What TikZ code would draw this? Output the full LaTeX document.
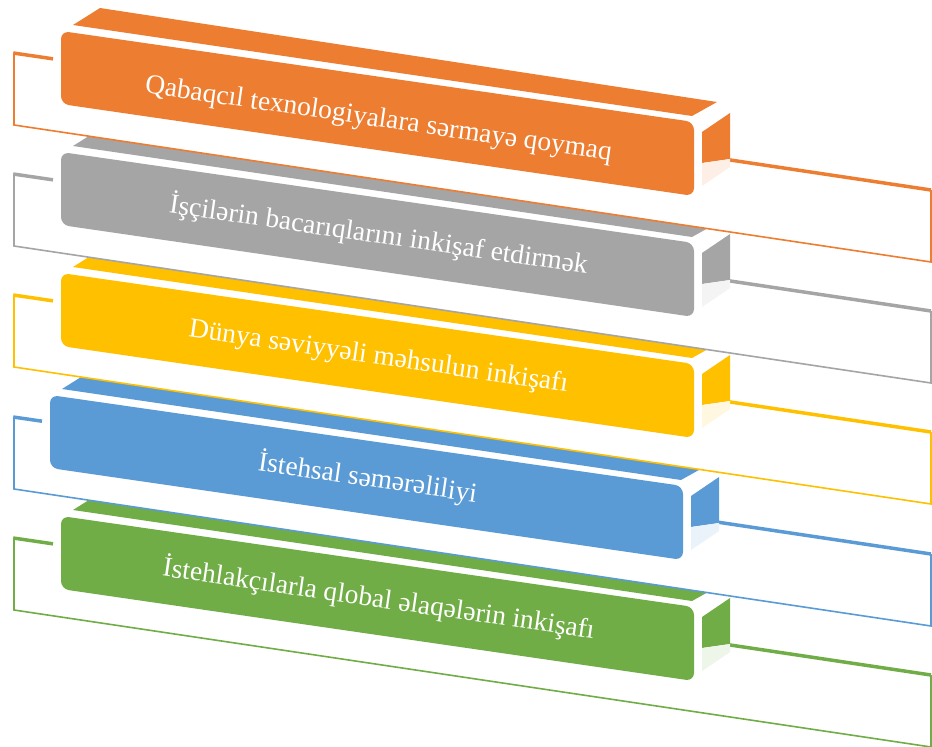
\documentclass[tikz,border=0pt]{standalone}
\usepackage{fontspec}
\setmainfont{Liberation Serif}
\definecolor{cOrange}{HTML}{ED7D31}
\definecolor{cGray}{HTML}{A5A5A5}
\definecolor{cYellow}{HTML}{FFC000}
\definecolor{cBlue}{HTML}{5B9BD5}
\definecolor{cGreen}{HTML}{70AD47}
\tikzset{
  frameline/.style={line width=1.6pt},
  frametop/.style={line width=3.5pt},
  facetext/.style={text=white, font=\fontsize{27.5}{30}\selectfont, rotate=-8.3, anchor=base, inner sep=0pt},
}
% #1 vertical offset, #2 horizontal offset of the box, #3 colour, #4 node name, #5 baseline y, #6 text
\newcommand\barunit[6]{%
  \begin{scope}[shift={(0,#1)}]
    \fill[white] (14,53)--(931,190)--(931,262)--(14,125)--cycle;
    \draw[frameline,#3] (14,53)--(14,125)--(931,262)--(931,190);
    \draw[frametop,#3] (13.2,53)--({53+(#2)},{53+0.1494*(39+(#2))});
    \draw[frametop,#3] ({730+(#2)},{53+0.1494*(716+(#2))})--(931,190);
    \begin{scope}[shift={(#2,0)}]
      \fill[#3] (73,25)--(100,8)--(717,102)--(692,116)--cycle;
      \fill[#3, rounded corners=8pt] (61,31)--(694,122)--(694,196)--(61,104)--cycle;
      \fill[#3] (702,132)--(730,113)--(730,159)--(702,163)--cycle;
      \fill[#3!12] (702,163)--(730,159)--(730,167)--(702,186)--cycle;
    \end{scope}
  \end{scope}
  \node[facetext] (#4) at ({377.5+(#2)},#5) {#6};
}
\begin{document}
\begin{tikzpicture}[x=1pt,y=-1pt]
  \useasboundingbox (0,0) rectangle (932,747);
  \barunit{485}{0}{cGreen}{tgreen}{607.3}{İstehlakçılarla qlobal əlaqələrin inkişafı}
  \barunit{364}{-11}{cBlue}{tblue}{486.3}{İstehsal səmərəliliyi}
  \barunit{242}{0}{cYellow}{tyellow}{364.3}{Dünya səviyyəli məhsulun inkişafı}
  \barunit{121}{0}{cGray}{tgray}{243.3}{İşçilərin bacarıqlarını inkişaf etdirmək}
  \barunit{0}{0}{cOrange}{torange}{126.7}{Qabaqcıl texnologiyalara sərmayə qoymaq}
\end{tikzpicture}
\end{document}
